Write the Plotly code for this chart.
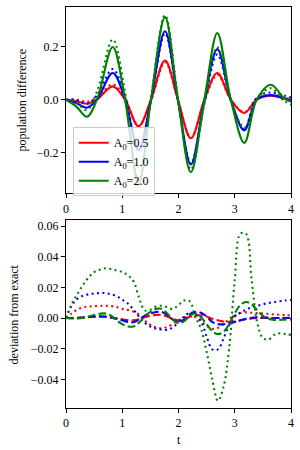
import plotly.graph_objects as go
from plotly.subplots import make_subplots

# ---------------- data ----------------
amplitudes = ["0.5", "1.0", "2.0"]
colors = ["#ff0000", "#0000ff", "#008000"]

# top panel (population difference)
t_top = [0, 0.18, 0.37, 0.55, 0.83, 1.05, 1.29, 1.51, 1.76, 1.99, 2.22, 2.46,
         2.69, 2.93, 3.17, 3.39, 3.64, 3.88, 4.0]
exact_red = [0, -0.005, -0.015, 0, 0.05, 0, -0.1, 0, 0.147, 0, -0.145, 0,
             0.1, 0, -0.05, 0, 0.015, 0.005, 0]
exact_blue = [0, -0.012, -0.03, 0, 0.1, 0, -0.19, 0, 0.257, 0, -0.243, 0,
              0.19, 0, -0.115, 0, 0.017, 0.005, -0.004]
exact_green = [0, -0.025, -0.064, 0, 0.198, 0, -0.32, 0, 0.31, 0, -0.272, 0,
               0.25, 0, -0.162, 0, 0.056, 0.005, -0.008]
approx_red = [0, 0, -0.0077, 0.0079, 0.0577, 0.0057, -0.0977, -0.005, 0.141,
              -0.0016, -0.1438, -0.0045, 0.0938, 0.0005, -0.0465, 0.0035,
              0.0177, 0.007, 0.0018]
approx_blue = [0, -0.001, -0.0155, 0.016, 0.115, 0.0105, -0.189, -0.006, 0.249,
               -0.0026, -0.24, -0.012, 0.17, -0.003, -0.11, 0.008, 0.027,
               0.016, 0.0076]
approx_green = [0, -0.0105, -0.039, 0.03, 0.226, 0.029, -0.304, 0.006, 0.3175,
                0.008, -0.262, -0.017, 0.197, -0.002, -0.105, 0.0, 0.043,
                -0.005, -0.019]

# bottom panel (deviation from exact)
t_dev = [round(0.1 * i, 1) for i in range(41)]
dot_red = [0, 0.003, 0.0055, 0.007, 0.0075, 0.0078, 0.008, 0.008, 0.0078, 0.0072,
           0.006, 0.0052, 0.0042, 0.0022, -0.0015, -0.0045, -0.0062, -0.0066,
           -0.0058, -0.0037, -0.0015, 0.0005, 0.0013, 0.0005, -0.002, -0.005,
           -0.007, -0.0065, -0.004, -0.0005, 0.0015, 0.0033, 0.0037, 0.0035,
           0.0032, 0.003, 0.0027, 0.0024, 0.0021, 0.0019, 0.0018]
dot_blue = [0, 0.008, 0.0125, 0.0145, 0.0155, 0.016, 0.0163, 0.0163, 0.0155,
            0.0143, 0.012, 0.0095, 0.0055, 0.0008, -0.003, -0.0055, -0.007,
            -0.0075, -0.0077, -0.006, -0.0026, 0.001, 0.0035, 0.0025, -0.002,
            -0.012, -0.0205, -0.0205, -0.0135, -0.0045, 0.001, 0.0035, 0.0055,
            0.007, 0.008, 0.009, 0.0098, 0.0105, 0.011, 0.0115, 0.0117]
dot_green = [0, 0.009, 0.0155, 0.0215, 0.0265, 0.03, 0.0315, 0.0325, 0.032, 0.031,
             0.03, 0.028, 0.024, 0.013, 0.005, 0.0055, 0.0075, 0.008, 0.007,
             0.006, 0.0085, 0.0115, 0.011, 0.001, -0.007, -0.022, -0.04, -0.054,
             -0.045, -0.02, 0.025, 0.055, 0.055, 0.025, -0.003, -0.013, -0.014,
             -0.011, -0.01, -0.0105, -0.011]
dash_red = [0, 0, 0.0002, 0.0004, 0.0006, 0.0008, 0.0009, 0.0008, 0.0004, -0.0002,
            -0.0008, -0.0013, -0.0015, -0.0008, 0.0005, 0.0015, 0.0021, 0.002,
            0.001, -0.0005, -0.0015, -0.0008, 0.0008, 0.0017, 0.0018, 0.001,
            -0.0005, -0.0015, -0.0022, -0.0025, -0.0022, -0.0015, -0.0008,
            -0.0003, 0, 0.0001, 0.0001, 0, 0, 0, 0]
dash_blue = [0, 0, 0, 0.0003, 0.0007, 0.001, 0.0012, 0.001, 0.0003, -0.0005,
             -0.0015, -0.0025, -0.0027, -0.001, 0.0015, 0.003, 0.004, 0.004,
             0.002, -0.001, -0.0027, -0.001, 0.0025, 0.004, 0.0035, 0.001,
             -0.0025, -0.004, -0.004, -0.0035, -0.0025, -0.0015, -0.0005,
             0.0002, 0.0005, 0.0004, 0.0002, 0, 0, 0, 0]
dash_green = [0, -0.0002, -0.0003, 0, 0.001, 0.002, 0.0028, 0.003, 0.0015,
              -0.0015, -0.004, -0.0055, -0.0055, -0.003, 0.001, 0.004, 0.006,
              0.006, 0.003, -0.001, -0.0035, -0.002, 0.0015, 0.003, 0.0005,
              -0.004, -0.0085, -0.0105, -0.009, -0.004, 0.003, 0.0085, 0.0105,
              0.009, 0.005, 0.0015, -0.0005, -0.0012, -0.0012, -0.001, -0.001]

x_ticks = [0, 1, 2, 3, 4]
top_y_ticks = [-0.2, 0.0, 0.2]
bottom_y_ticks = [-0.04, -0.02, 0.0, 0.02, 0.04, 0.06]

# ---------------- figure ----------------
FONT = "Liberation Serif"
FS = 12
DOT = "2px,3.4px"
DASH = "7.7px,3.3px"

fig = make_subplots(rows=2, cols=1, vertical_spacing=0.0)

exacts = [exact_red, exact_blue, exact_green]
approxs = [approx_red, approx_blue, approx_green]
for a, c, ex, ap in zip(amplitudes, colors, exacts, approxs):
    fig.add_trace(go.Scatter(x=t_top, y=ex, mode="lines",
                             line=dict(color=c, width=2.1, shape="spline"),
                             name=f"A<sub>0</sub>={a}", showlegend=True),
                  row=1, col=1)
    fig.add_trace(go.Scatter(x=t_top, y=ap, mode="lines",
                             line=dict(color=c, width=2.1, dash=DOT, shape="spline"),
                             showlegend=False), row=1, col=1)

dots = [dot_red, dot_blue, dot_green]
dashes = [dash_red, dash_blue, dash_green]
for c, dt, ds in zip(colors, dots, dashes):
    fig.add_trace(go.Scatter(x=t_dev, y=dt, mode="lines",
                             line=dict(color=c, width=2.1, dash=DOT, shape="spline"),
                             showlegend=False), row=2, col=1)
    fig.add_trace(go.Scatter(x=t_dev, y=ds, mode="lines",
                             line=dict(color=c, width=2.1, dash=DASH, shape="spline"),
                             showlegend=False), row=2, col=1)

axis_common = dict(showline=True, linecolor="black", linewidth=1, mirror=True,
                   ticks="outside", ticklen=4, tickwidth=1, tickcolor="black",
                   showgrid=False, zeroline=False,
                   tickfont=dict(family=FONT, size=FS, color="black"))

fig.update_xaxes(range=[0, 4], tickvals=x_ticks, **axis_common)
fig.update_yaxes(range=[-0.352, 0.348], tickvals=top_y_ticks, tickformat=".1f",
                 row=1, col=1, **axis_common)
fig.update_yaxes(range=[-0.0587, 0.0637], tickvals=bottom_y_ticks, tickformat=".2f",
                 row=2, col=1, **axis_common)

fig.update_layout(
    width=300, height=450,
    margin=dict(l=66, r=7, t=6, b=42),
    paper_bgcolor="white", plot_bgcolor="white",
    font=dict(family=FONT, size=FS, color="black"),
    showlegend=True,
    legend=dict(x=0.03, y=0.70, xanchor="left", yanchor="top",
                bgcolor="rgba(255,255,255,0.8)", bordercolor="#cccccc",
                borderwidth=1, font=dict(family=FONT, size=FS, color="black"),
                tracegroupgap=0, itemwidth=30),
    annotations=[
        dict(text="population difference", xref="paper", yref="paper",
             x=-0.195, y=0.767, textangle=-90, showarrow=False,
             xanchor="center", yanchor="middle",
             font=dict(family=FONT, size=FS, color="black")),
        dict(text="deviation from exact", xref="paper", yref="paper",
             x=-0.23, y=0.234, textangle=-90, showarrow=False,
             xanchor="center", yanchor="middle",
             font=dict(family=FONT, size=FS, color="black")),
        dict(text="t", xref="paper", yref="paper", x=0.5, y=-0.08,
             showarrow=False, xanchor="center", yanchor="middle",
             font=dict(family=FONT, size=FS, color="black")),
    ],
)
fig.update_layout(xaxis=dict(domain=[0, 1]), yaxis=dict(domain=[0.535, 1.0]),
                  xaxis2=dict(domain=[0, 1]), yaxis2=dict(domain=[0.0, 0.4677]))

fig.write_html("out.html", config={"displayModeBar": False},
               post_script="document.body.style.margin='0';document.body.style.padding='0';")
